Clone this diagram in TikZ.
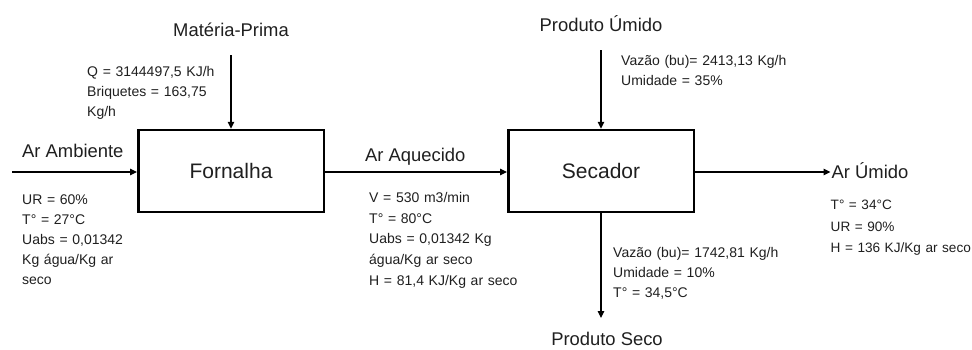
\documentclass[tikz,border=0pt]{standalone}
\usepackage{fontspec}
\setmainfont{Liberation Sans}
\usetikzlibrary{arrows.meta}
\tikzset{
  procbox/.style={draw=black, line width=2.5pt, minimum width=185.5pt, minimum height=82pt,
    inner sep=0pt, font=\fontsize{21}{24}\selectfont, text=black!88},
  biglabel/.style={inner sep=0pt, font=\fontsize{18.4}{22}\selectfont, text=black!88},
  info/.style={inner sep=0pt, anchor=base west, align=left, text width=250pt, text=black!88},
  flow/.style={draw=black, line width=1.2pt, -{Triangle[length=7pt,width=6.5pt]}},
}
\newcommand{\infofont}[1]{\fontsize{14}{#1}\selectfont}
\begin{document}
\begin{tikzpicture}[x=1pt,y=-1pt]
\useasboundingbox (0,0) rectangle (972,349);

% process boxes
\node[procbox] (forn) at (231,171) {Fornalha};
\node[procbox] (sec) at (601,171) {Secador};

% flow labels
\node[biglabel, anchor=base] (mp) at (231,36) {Matéria-Prima};
\node[biglabel, anchor=base west] (aamb) at (22,157) {Ar Ambiente};
\node[biglabel, anchor=base west] (aaq) at (365,161) {Ar Aquecido};
\node[biglabel, anchor=base] (pu) at (601,31) {Produto Úmido};
\node[biglabel, anchor=base west] (aru) at (831.5,178) {Ar Úmido};
\node[biglabel, anchor=base] (ps) at (607,345) {Produto Seco};

% free ends
\coordinate (ain) at (12,172);
\coordinate (mpstart) at (231,55);
\coordinate (pustart) at (601,50);
\coordinate (psend) at (601,318);

% connectors
\draw[flow] (ain) -- (forn.west |- ain);
\draw[flow] (forn.east |- ain) -- (sec.west |- ain);
\draw[flow] (sec.east |- ain) -- ([xshift=-1pt]aru.west |- ain);
\draw[flow] (mpstart) -- (forn.north);
\draw[flow] (pustart) -- (sec.north);
\draw[flow] (sec.south) -- (psend);

% data blocks
\node[info, font=\infofont{20.3}] (qinfo) at (87,76)
  {Q = 3144497,5 KJ/h\\Briquetes = 163,75\\Kg/h};
\node[info, font=\infofont{20}] (ambinfo) at (22,204)
  {UR = 60\%\\T° = 27°C\\Uabs = 0,01342\\Kg água/Kg ar\\seco};
\node[info, font=\infofont{20.7}] (aqinfo) at (369,202.5)
  {V = 530 m3/min\\T° = 80°C\\Uabs = 0,01342 Kg\\água/Kg ar seco\\H = 81,4 KJ/Kg ar seco};
\node[info, font=\infofont{20}] (puinfo) at (621,65)
  {Vazão (bu)= 2413,13 Kg/h\\Umidade = 35\%};
\node[info, font=\infofont{20}] (psinfo) at (613,257)
  {Vazão (bu)= 1742,81 Kg/h\\Umidade = 10\%\\T° = 34,5°C};
\node[info, font={\fontsize{13.6}{21.5}\selectfont}] (aruinfo) at (830.5,209.5)
  {T° = 34°C\\UR = 90\%\\H = 136 KJ/Kg ar seco};
\end{tikzpicture}
\end{document}
